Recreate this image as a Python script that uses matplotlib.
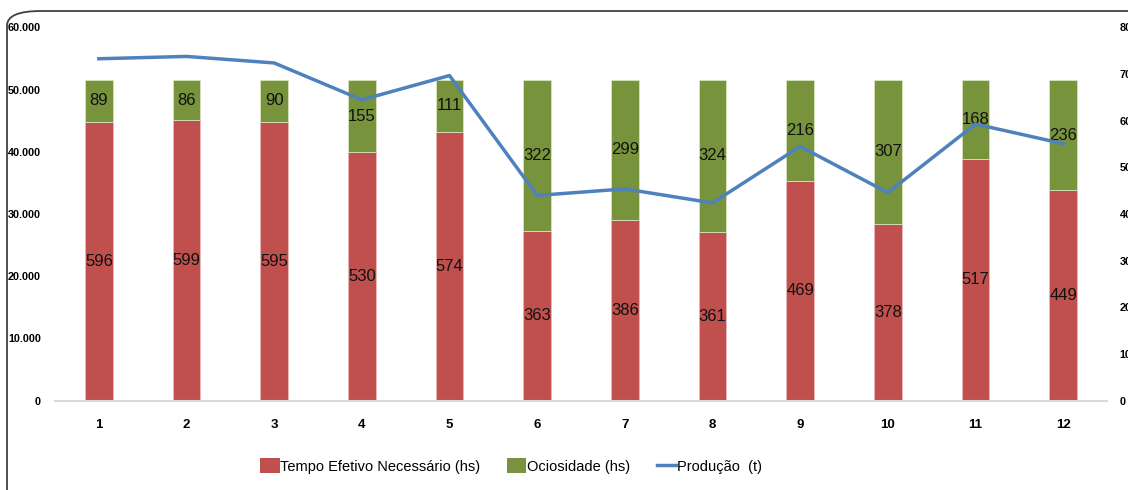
import matplotlib
matplotlib.use("Agg")
import matplotlib.pyplot as plt
from matplotlib.patches import FancyBboxPatch, Patch
from matplotlib.lines import Line2D
from matplotlib.ticker import FuncFormatter, MultipleLocator
from matplotlib.font_manager import FontProperties

# ---- data ----
months = [1, 2, 3, 4, 5, 6, 7, 8, 9, 10, 11, 12]
tempo_efetivo = [596, 599, 595, 530, 574, 363, 386, 361, 469, 378, 517, 449]
ociosidade = [89, 86, 90, 155, 111, 322, 299, 324, 216, 307, 168, 236]
producao = [73.3, 73.8, 72.4, 64.5, 69.7, 44.0, 45.4, 42.4, 54.5, 44.6, 59.3, 55.1]
hours_scale = 75.3  # bar height on left axis per labelled hour

red = "#C0504D"
green = "#77933C"
blue = "#4F81BD"

W, H = 1128, 490
fig = plt.figure(figsize=(W / 100, H / 100), dpi=100)

# rounded frame
frame = FancyBboxPatch((7 / W, -0.2), 1.3, (490 - 11) / H + 0.2,
                       boxstyle="round,pad=0,rounding_size=0.03",
                       transform=fig.transFigure, fill=False,
                       edgecolor="#404040", linewidth=1.3, clip_on=False)
fig.patches.append(frame)

ax = fig.add_axes([55 / W, (490 - 400.7) / H, (1107 - 55) / W, (400.7 - 27.5) / H])
ax2 = ax.twinx()

red_h = [v * hours_scale for v in tempo_efetivo]
green_h = [v * hours_scale for v in ociosidade]
bw = 0.316
ax.bar(months, red_h, width=bw, color=red, edgecolor="#E6B8B7", linewidth=0.6, zorder=2)
ax.bar(months, green_h, bottom=red_h, width=bw, color=green, edgecolor="#D7E4BD",
       linewidth=0.6, zorder=2)

for x, r, g, rv, gv in zip(months, red_h, green_h, tempo_efetivo, ociosidade):
    ax.text(x, r / 2, str(rv), ha="center", va="center", fontsize=12,
            family="Liberation Sans", color="#111111", zorder=5)
    ax.text(x, r + g / 2, str(gv), ha="center", va="center", fontsize=12,
            family="Liberation Sans", color="#111111", zorder=5)

ax2.plot(months, producao, color=blue, linewidth=2.5, zorder=4)

ax.set_xlim(0.5, 12.5)
ax.set_ylim(0, 60000)
ax2.set_ylim(0, 80)
ax.yaxis.set_major_locator(MultipleLocator(10000))
ax2.yaxis.set_major_locator(MultipleLocator(10))
ax.yaxis.set_major_formatter(FuncFormatter(lambda v, p: f"{int(v):,}".replace(",", ".")))
ax.set_xticks(months)
ax.set_xticklabels([str(m) for m in months])

for a in (ax, ax2):
    for s in ("top", "right", "left"):
        a.spines[s].set_visible(False)
ax2.spines["bottom"].set_visible(False)
ax.spines["bottom"].set_color("#D9D9D9")
ax.spines["bottom"].set_linewidth(1.5)

ax.tick_params(axis="y", length=0, pad=10)
ax.tick_params(axis="x", length=0, pad=13)
ax2.tick_params(axis="y", length=0, pad=9)
yfp = FontProperties(family="Liberation Sans", weight="bold", size=7.8)
for lab in ax.get_yticklabels() + ax2.get_yticklabels():
    lab.set_fontproperties(yfp)
xfp = FontProperties(family="Liberation Sans", weight="bold", size=9.5)
for lab in ax.get_xticklabels():
    lab.set_fontproperties(xfp)

ax.set_zorder(ax2.get_zorder() - 1)
ax.patch.set_visible(False)

handles = [Patch(facecolor=red, edgecolor="none"),
           Patch(facecolor=green, edgecolor="none"),
           Line2D([0], [0], color=blue, linewidth=2.5)]
labels = ["Tempo Efetivo Necessário (hs)", "Ociosidade (hs)", "Produção  (t)"]
fig.legend(handles, labels, loc="center", bbox_to_anchor=(511 / W, (490 - 466) / H),
           ncol=3, frameon=False, prop=dict(family="Liberation Sans", size=10.5),
           handlelength=1.35, handleheight=1.2, handletextpad=0.05, columnspacing=1.8)

fig.savefig("out.png", dpi=100)
